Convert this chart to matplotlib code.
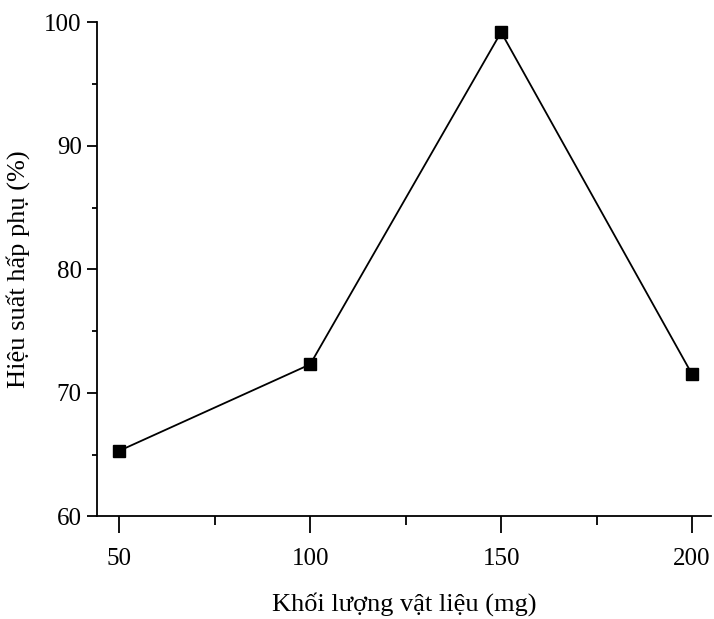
import matplotlib.pyplot as plt
from matplotlib.ticker import MultipleLocator

plt.rcParams['font.family'] = ['Liberation Serif', 'DejaVu Serif']

# du lieu
mass = [50, 100, 150, 200]
efficiency = [65.3, 72.3, 99.2, 71.5]

fig = plt.figure(figsize=(7.14, 6.19), dpi=100)
ax = fig.add_axes([0.136, 0.166, 0.860, 0.798])

ax.plot(mass, efficiency, color='black', lw=1.3, marker='s', markersize=8.5)

ax.set_xlim(44.2, 205)
ax.set_ylim(60, 100)
ax.xaxis.set_major_locator(MultipleLocator(50))
ax.xaxis.set_minor_locator(MultipleLocator(25))
ax.yaxis.set_major_locator(MultipleLocator(10))
ax.yaxis.set_minor_locator(MultipleLocator(5))

ax.spines['top'].set_visible(False)
ax.spines['right'].set_visible(False)
for s in ['left', 'bottom']:
    ax.spines[s].set_linewidth(1.3)

ax.tick_params(axis='x', which='major', direction='out', length=12, width=1.3, labelsize=18, pad=11)
ax.tick_params(axis='x', which='minor', direction='out', length=6.5, width=1.3)
ax.tick_params(axis='y', which='major', direction='out', length=7, width=1.3, labelsize=18, pad=4)
ax.tick_params(axis='y', which='minor', direction='out', length=3.5, width=1.3)

ax.set_xlabel('Khối lượng vật liệu (mg)', fontsize=19, labelpad=16)
ax.set_ylabel('Hiệu suất hấp phụ (%)', fontsize=19, labelpad=10)

fig.savefig('out.png', dpi=100)
